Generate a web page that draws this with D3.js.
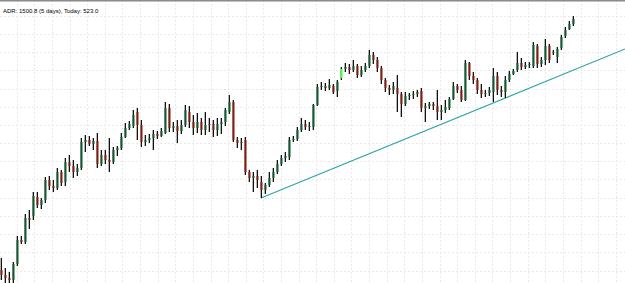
<!DOCTYPE html>
<html lang="en">
<head>
    <meta charset="utf-8">
    <title>D3: candle chart with trendline</title>
    <script src="https://d3js.org/d3.v7.min.js"></script>
    <style>
        body { margin: 0; background: #fff; }
        .grid line { stroke: #e9e9e9; stroke-dasharray: 2,2; }
        .info { font-family: "Liberation Sans", Arial, sans-serif; font-size: 6px; fill: #000; }
    </style>
</head>
<body>
    <script>
        // OHLC per bar (price units)
        var open  = [30,25,22,20,36,60,58,82,84,103,95,100,120,114,112,128,118,138,134,128,
                     132,158,160,156,159,136,145,140,138,150,152,163,172,174,188,175,158,160,162,166,
                     164,167,192,172,174,169,175,188,178,172,178,170,175,176,170,176,178,188,198,160,
                     157,160,128,122,124,118,110,115,122,128,136,142,143,160,161,170,176,173,173,195,
                     213,214,212,214,209,222,231,233,230,234,225,230,234,245,240,232,220,212,210,212,
                     206,196,204,205,206,209,192,194,196,194,188,190,192,201,214,210,200,237,224,220,
                     210,206,207,208,224,210,208,220,226,230,237,233,235,234,254,236,240,254,247,243,
                     252,264,271,276];
        var high  = [42,32,28,38,64,64,86,90,108,108,102,123,124,120,132,130,142,145,140,136,
                     162,165,164,162,167,150,150,162,153,154,167,177,179,190,192,180,165,166,170,169,
                     172,198,196,178,180,180,195,194,185,187,182,188,182,180,182,182,192,205,200,163,
                     162,163,130,128,130,124,117,128,132,140,145,148,163,164,173,182,180,178,196,216,
                     218,217,221,216,220,233,237,236,240,236,234,237,250,248,243,234,222,215,218,225,
                     208,208,207,209,210,212,197,198,198,210,195,200,203,218,216,214,240,238,228,222,
                     216,210,213,232,228,214,224,229,231,248,242,238,238,258,256,243,261,256,250,253,
                     265,273,279,284];
        var low   = [20,17,17,17,34,56,56,71,80,92,91,97,110,108,110,114,114,128,122,124,
                     130,148,154,150,132,134,136,128,136,144,150,162,170,172,160,153,154,157,150,161,
                     163,166,168,168,157,166,173,172,165,167,165,165,168,163,164,166,174,186,158,152,
                     150,125,118,108,112,102,106,113,118,126,134,138,140,158,159,168,170,169,170,194,
                     210,209,210,206,203,220,228,226,228,222,223,228,232,236,228,216,208,205,206,188,
                     183,194,200,201,203,188,178,191,190,180,180,187,190,200,207,198,199,220,216,206,
                     202,203,204,198,205,203,202,218,225,228,230,231,232,232,232,233,235,237,245,237,
                     250,262,270,274];
        var close = [25,22,20,36,60,58,82,80,104,95,100,120,114,112,128,117,138,134,128,132,
                     158,160,156,159,136,145,140,138,150,152,163,172,176,185,175,158,160,162,166,164,
                     169,192,172,174,169,175,190,178,172,178,170,175,176,170,176,178,190,198,160,157,
                     158,128,122,124,120,110,115,122,128,136,142,144,160,161,170,176,173,174,195,213,
                     214,212,215,208,218,231,233,230,234,225,230,234,245,240,232,220,212,210,214,206,
                     196,204,205,206,208,192,194,196,194,188,190,193,201,214,210,200,237,224,220,210,
                     206,207,210,224,210,208,220,226,229,237,233,235,236,255,236,240,254,240,248,251,
                     263,270,276,281];

        // bar that the terminal shows highlighted
        var selectedBar = 85;

        // trendline anchors: [bar index, price]
        var trendFrom = [65, 102];
        var trendTo = [123, 197];

        var infoText = "ADR: 1500.8 (5 days), Today: 523.0";

        var bars = open.map(function (o, i) {
            return { i: i, o: o, h: high[i], l: low[i], c: close[i] };
        });

        var w = 625, h = 283;

        var x = d3.scaleLinear().domain([0, bars.length - 1]).range([1, 573]);
        var y = d3.scaleLinear().domain([17, 300]).range([283, 0]);

        var svg = d3.select("body").append("svg")
            .attr("width", w)
            .attr("height", h)
            .style("display", "block");

        // dotted grid
        var grid = svg.append("g").attr("class", "grid");
        grid.selectAll("line.v")
            .data(d3.range(16.7, w, 17.62))
            .enter().append("line")
            .attr("class", "v")
            .attr("x1", function (d) { return Math.round(d) + 0.5; })
            .attr("x2", function (d) { return Math.round(d) + 0.5; })
            .attr("y1", 0).attr("y2", h);
        grid.selectAll("line.h")
            .data(d3.range(15.7, h, 18.2))
            .enter().append("line")
            .attr("class", "h")
            .attr("y1", function (d) { return Math.round(d) + 0.5; })
            .attr("y2", function (d) { return Math.round(d) + 0.5; })
            .attr("x1", 0).attr("x2", w);

        // trendline, extended to the right edge
        var slope = (trendTo[1] - trendFrom[1]) / (trendTo[0] - trendFrom[0]);
        var lastIdx = x.invert(w);
        svg.append("line")
            .attr("x1", x(trendFrom[0]))
            .attr("y1", y(trendFrom[1]))
            .attr("x2", x(lastIdx))
            .attr("y2", y(trendFrom[1] + slope * (lastIdx - trendFrom[0])))
            .attr("stroke", "#2ea3a8")
            .attr("stroke-width", 1.1);

        // candles
        var candle = svg.append("g").selectAll("g")
            .data(bars)
            .enter().append("g");

        candle.append("line")
            .attr("x1", function (d) { return x(d.i) - 0.5; })
            .attr("x2", function (d) { return x(d.i) - 0.5; })
            .attr("y1", function (d) { return y(d.h); })
            .attr("y2", function (d) { return y(d.l); })
            .attr("stroke", "#b5b5b5")
            .attr("stroke-width", 1);

        candle.append("line")
            .attr("x1", function (d) { return x(d.i) + 0.5; })
            .attr("x2", function (d) { return x(d.i) + 0.5; })
            .attr("y1", function (d) { return y(d.h); })
            .attr("y2", function (d) { return y(d.l); })
            .attr("stroke", "#111")
            .attr("stroke-width", 1);

        candle.append("rect")
            .attr("x", function (d) { return x(d.i) - 0.5; })
            .attr("width", 2)
            .attr("y", function (d) { return y(Math.max(d.o, d.c)); })
            .attr("height", function (d) { return Math.max(1, Math.abs(y(d.o) - y(d.c))); })
            .attr("fill", function (d) {
                if (d.i === selectedBar) return "#3cff3c";
                return d.c >= d.o ? "#0f5a30" : "#851a10";
            });

        // top frame
        svg.append("rect")
            .attr("x", 0).attr("y", 0)
            .attr("width", w).attr("height", 1.5)
            .attr("fill", "#8a8a8a");

        svg.append("text")
            .attr("class", "info")
            .attr("x", 3)
            .attr("y", 13)
            .text(infoText);
    </script>
</body>
</html>
